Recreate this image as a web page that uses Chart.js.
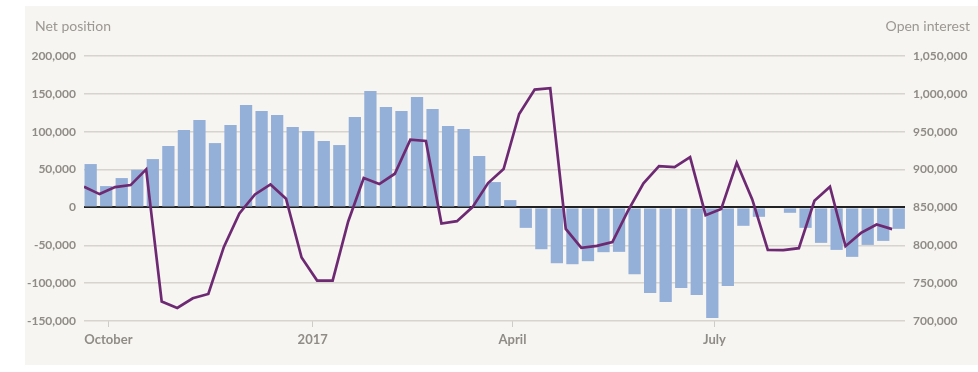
<!DOCTYPE html>
<html>
<head>
<meta charset="utf-8">
<script src="https://cdn.jsdelivr.net/npm/chart.js@4"></script>
<style>
  html, body { margin: 0; padding: 0; background: #ffffff; }
  #panel { position: absolute; left: 25px; top: 6px; width: 953px; height: 359px; background: #f7f5f1; }
</style>
</head>
<body>
<div id="panel"><canvas id="myChart" width="953" height="359"></canvas></div>
<script>
// weekly report dates (Fridays), first one below
var firstReport = '2016-09-23';
// open interest is as of the Tuesday before each report
var asOfLagDays = 3;

// Net position, one per week (null = no bar that week)
var netPosition = [
  57300, 28200, 38800, 49800, 63900, 81100, 102300, 115500, 85000, 108900,
  135300, 127400, 122100, 106200, 100900, 87700, 82400, 119500, 153900, 132700,
  127400, 145900, 130000, 107600, 103600, 67900, 33500, 9700, -27000, -55200,
  -73700, -75000, -71000, -59100, -58700, -88200, -113000, -124900, -106300, -115600,
  -146000, -103700, -24300, -12400, null, -7100, -27000, -46800, -56100, -65300,
  -49500, -44200, -28300
];

// Open interest, one per week
var openInterest = [
  877300, 867600, 876900, 879500, 900300, 725600, 717200, 730000, 735700, 797900,
  842000, 867200, 880400, 861500, 783800, 753400, 753400, 831500, 888800, 880800,
  894500, 939400, 937700, 828800, 831900, 850400, 882100, 900700, 973400, 1005600,
  1007400, 821700, 796600, 799200, 804100, 845500, 881800, 904600, 903300, 916500,
  839800, 847800, 909000, 860600, 793900, 793500, 796200, 858700, 877300, 798800,
  816400, 827500, 821300
];

var tickLabels = ['October', '2017', 'April', 'July'];
var tickDates = ['2016-10-01', '2017-01-01', '2017-04-01', '2017-07-01'];

// week number since first report
function weekOf(dateStr) {
  return (Date.parse(dateStr) - Date.parse(firstReport)) / (7 * 86400000);
}
var lag = asOfLagDays / 7;
var tickWeeks = tickDates.map(weekOf);

var barPoints = netPosition.map(function(v, i) { return {x: i, y: v}; });
var linePoints = openInterest.map(function(v, i) { return {x: i - lag, y: v}; });

var fmt = function(v) { return Number(v).toLocaleString('en-US'); };

var tickFont = {family: 'Lato', size: 12, weight: 'bold'};
var tickColor = '#8f8b86';

// Axis captions above the plot
var captions = {
  id: 'captions',
  afterDraw: function(chart) {
    var c = chart.ctx;
    c.save();
    c.font = '14px Lato';
    c.fillStyle = '#9b9792';
    c.textBaseline = 'middle';
    c.textAlign = 'left';
    c.fillText('Net position', 10, 20);
    c.textAlign = 'right';
    c.fillText('Open interest', chart.width - 8, 20);
    c.restore();
  }
};

var ctx = document.getElementById('myChart');
var myChart = new Chart(ctx, {
  data: {
    datasets: [
      {
        type: 'line',
        label: 'Open interest',
        data: linePoints,
        yAxisID: 'y2',
        borderColor: '#6d2a73',
        borderWidth: 2.7,
        pointRadius: 0,
        tension: 0,
        order: 0
      },
      {
        type: 'bar',
        label: 'Net position',
        data: barPoints,
        yAxisID: 'y',
        backgroundColor: '#95b0d8',
        borderWidth: 0,
        barPercentage: 1,
        categoryPercentage: 0.79,
        order: 1
      }
    ]
  },
  options: {
    responsive: false,
    animation: false,
    layout: { padding: { top: 50, left: 0, right: 0, bottom: 0 } },
    plugins: {
      legend: { display: false },
      tooltip: { enabled: false }
    },
    scales: {
      x: {
        type: 'linear',
        offset: false,
        min: -lag,
        max: 52.4,
        afterBuildTicks: function(axis) {
          axis.ticks = tickWeeks.map(function(w) { return {value: w}; });
        },
        afterFit: function(axis) { axis.height = 44; },
        ticks: {
          autoSkip: false,
          maxRotation: 0,
          padding: 5,
          color: tickColor,
          font: {family: 'Lato', size: 13, weight: 'bold'},
          callback: function(v, i) { return tickLabels[i]; }
        },
        grid: {
          offset: false,
          drawOnChartArea: false,
          drawTicks: true,
          tickLength: 6,
          color: '#cfcbc6',
          lineWidth: 1
        },
        border: { display: false }
      },
      y: {
        position: 'left',
        min: -150000,
        max: 200000,
        afterFit: function(axis) { axis.width = 59; },
        ticks: {
          stepSize: 50000,
          padding: 8,
          color: tickColor,
          font: tickFont,
          callback: fmt
        },
        grid: {
          drawTicks: false,
          lineWidth: function(c) { return c.tick && c.tick.value === 0 ? 2 : 1.5; },
          color: function(c) { return c.tick && c.tick.value === 0 ? '#222222' : '#d7d4cf'; }
        },
        border: { display: false }
      },
      y2: {
        position: 'right',
        min: 700000,
        max: 1050000,
        afterFit: function(axis) { axis.width = 73; },
        ticks: {
          stepSize: 50000,
          padding: 8,
          color: tickColor,
          font: tickFont,
          callback: fmt
        },
        grid: { drawOnChartArea: false, drawTicks: false },
        border: { display: false }
      }
    }
  },
  plugins: [captions]
});
</script>
</body>
</html>
